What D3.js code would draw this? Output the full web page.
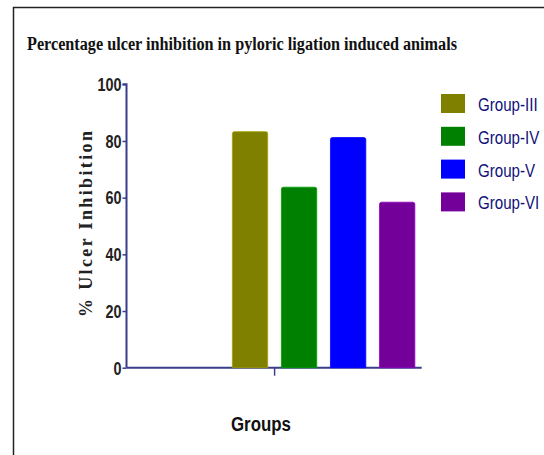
<!DOCTYPE html>
<html>
<head>
<meta charset="utf-8">
<script src="https://cdn.jsdelivr.net/npm/d3@7"></script>
<style>
  html, body { margin: 0; padding: 0; background: #fff; }
  svg { display: block; }
</style>
</head>
<body>
<svg id="chart" width="544" height="455"></svg>
<script>
// Chart data
const groups = ["Group-III", "Group-IV", "Group-V", "Group-VI"];
const inhibition = [83.3, 63.7, 81.2, 58.4];
const barColors = ["#808000", "#008000", "#0000FF", "#74009A"];
const yTicks = [0, 20, 40, 60, 80, 100];

const svg = d3.select("#chart");
const axisColor = "#3a3d8a";

// Outer frame
svg.append("path")
  .attr("d", "M13.5,470 L13.5,7.5 L560,7.5")
  .attr("fill", "none")
  .attr("stroke", "#222")
  .attr("stroke-width", 1.5);

// Title
svg.append("text")
  .attr("x", 27).attr("y", 50)
  .attr("font-family", "'Liberation Serif', 'Times New Roman', serif")
  .attr("font-weight", "bold")
  .attr("font-size", 18.5)
  .attr("textLength", 430)
  .attr("lengthAdjust", "spacingAndGlyphs")
  .attr("fill", "#111")
  .text("Percentage ulcer inhibition in pyloric ligation induced animals");

// Scales
const y = d3.scaleLinear().domain([0, 100]).range([367.7, 84.3]);
// band scale for the bars, placed in the right portion of the x-axis
const x = d3.scaleBand().domain(groups).range([225.5, 421.7]).paddingInner(0.28).paddingOuter(0.14);

// Y axis
const yAxis = d3.axisLeft(y).tickValues(yTicks).tickSize(4).tickPadding(2);
const gy = svg.append("g").attr("transform", "translate(126.5,0)").call(yAxis);
gy.select(".domain").attr("stroke", axisColor).attr("stroke-width", 2).attr("d", "M-4,84.3H0V367.7");
gy.selectAll(".tick line").attr("stroke", axisColor).attr("stroke-width", 1.5);
gy.selectAll(".tick text")
  .attr("fill", "#222")
  .attr("font-family", "'Liberation Sans', Arial, sans-serif")
  .attr("font-weight", "bold")
  .attr("font-size", 18)
  .attr("dy", "0.35em")
  .attr("transform", "scale(0.8,1)")
  .attr("x", -5 / 0.8);

// X axis line with a single centre tick
const xLine = d3.scaleLinear().domain([0, 1]).range([126.5, 421.7]);
const gx = svg.append("g").attr("transform", "translate(0,367.7)")
  .call(d3.axisBottom(xLine).tickValues([0.5]).tickSize(8).tickFormat(""));
gx.select(".domain").attr("stroke", axisColor).attr("stroke-width", 2).attr("d", "M126.5,0H421.7");
gx.selectAll(".tick line").attr("stroke", axisColor).attr("stroke-width", 1.5);

// Bars with slightly rounded tops
const r = 2;
svg.append("g").selectAll("path")
  .data(groups)
  .join("path")
  .attr("d", (g, i) => {
    const x0 = x(g), x1 = x0 + x.bandwidth();
    const yt = y(inhibition[i]), yb = y(0);
    return `M${x0},${yb}V${yt + r}Q${x0},${yt} ${x0 + r},${yt}H${x1 - r}Q${x1},${yt} ${x1},${yt + r}V${yb}Z`;
  })
  .attr("fill", (g, i) => barColors[i])
  .attr("stroke", (g, i) => d3.color(barColors[i]).brighter(0.6))
  .attr("stroke-width", 0.8);

// Y axis title
svg.append("text")
  .attr("transform", "translate(92,224) rotate(-90)")
  .attr("text-anchor", "middle")
  .attr("font-family", "'Liberation Serif', 'Times New Roman', serif")
  .attr("font-weight", "bold")
  .attr("font-size", 18)
  .attr("textLength", 186)
  .attr("lengthAdjust", "spacing")
  .attr("fill", "#222")
  .text("% Ulcer Inhibition");

// X axis title
svg.append("text")
  .attr("x", 261).attr("y", 431)
  .attr("text-anchor", "middle")
  .attr("font-family", "'Liberation Sans', Arial, sans-serif")
  .attr("font-weight", "bold")
  .attr("font-size", 20)
  .attr("textLength", 60)
  .attr("lengthAdjust", "spacingAndGlyphs")
  .attr("fill", "#111")
  .text("Groups");

// Legend
const legend = svg.append("g");
const rows = legend.selectAll("g")
  .data(groups)
  .join("g")
  .attr("transform", (g, i) => `translate(441,${94 + i * 32.8})`);
rows.append("rect")
  .attr("width", 24).attr("height", 19)
  .attr("fill", (g, i) => barColors[i]);
rows.append("text")
  .attr("y", 17)
  .attr("font-family", "'Liberation Sans', Arial, sans-serif")
  .attr("font-size", 18)
  .attr("transform", "scale(0.84,1)")
  .attr("x", 37 / 0.84)
  .attr("fill", "#0f0f78")
  .text(d => d);
</script>
</body>
</html>
